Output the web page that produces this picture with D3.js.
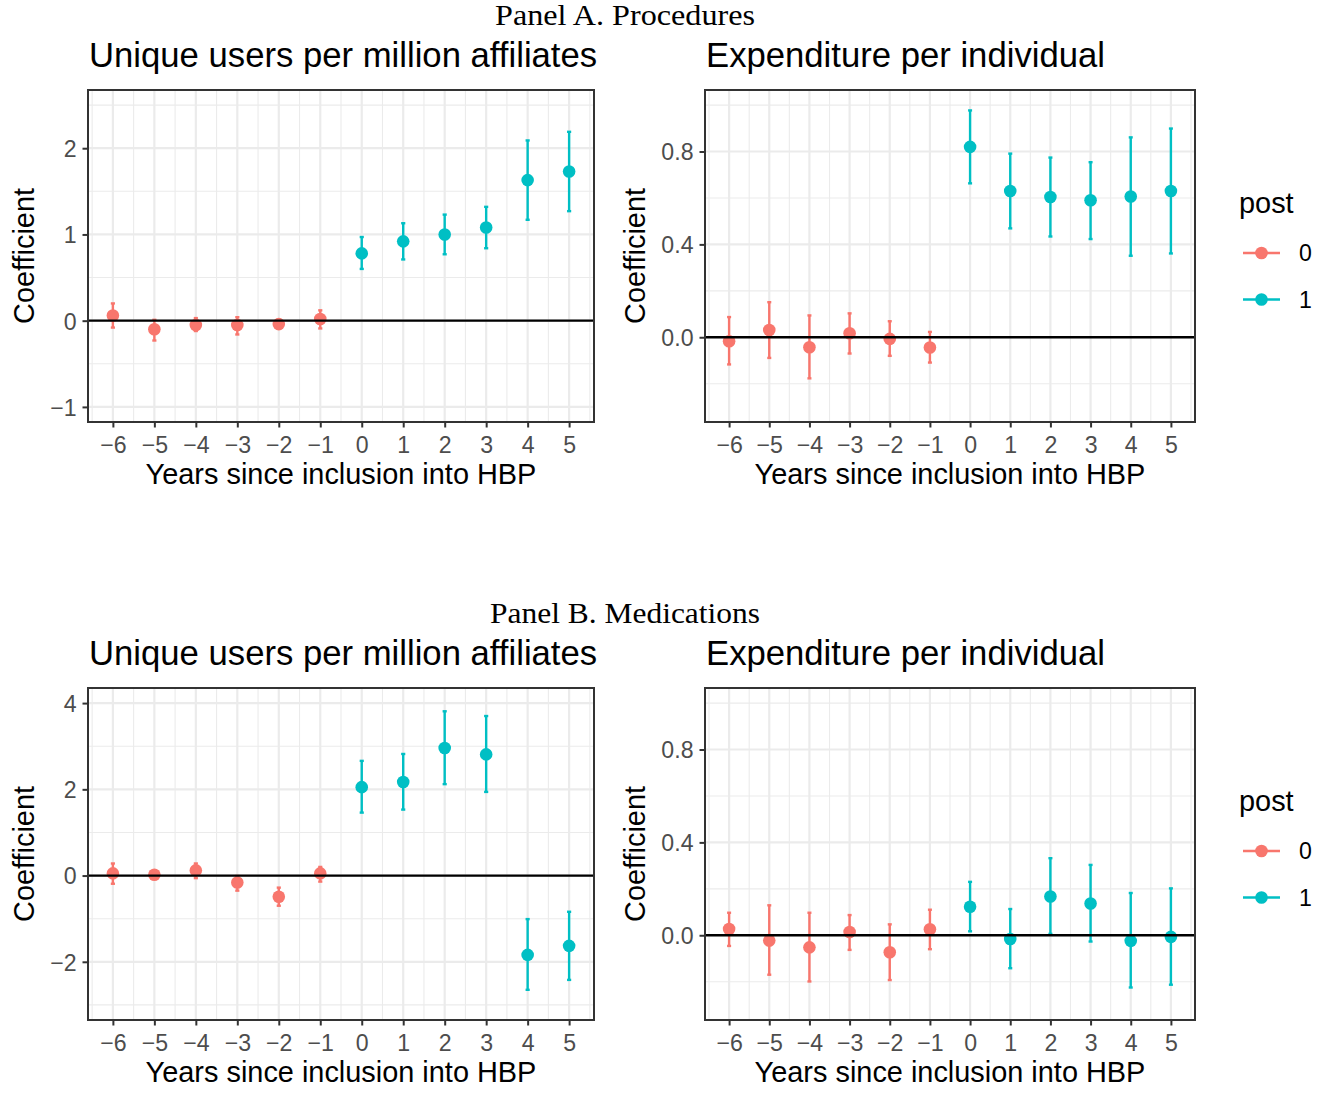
<!DOCTYPE html>
<html>
<head>
<meta charset="utf-8">
<script src="https://cdn.jsdelivr.net/npm/d3@7"></script>
<style>
  html, body { margin: 0; padding: 0; background: #ffffff; }
  svg { display: block; }
</style>
</head>
<body>
<svg id="chart" width="1332" height="1093"></svg>
<script>
// Event-study coefficients with 95% confidence intervals, by year relative to HBP inclusion
const years = [-6, -5, -4, -3, -2, -1, 0, 1, 2, 3, 4, 5];
const post  = [0, 0, 0, 0, 0, 0, 1, 1, 1, 1, 1, 1];

// Panel A. Procedures — unique users per million affiliates
const procUsersEst = [0.06, -0.10, -0.05, -0.05, -0.04, 0.02, 0.78, 0.92, 1.00, 1.08, 1.63, 1.73];
const procUsersLo  = [-0.08, -0.23, -0.12, -0.16, -0.09, -0.09, 0.60, 0.71, 0.77, 0.84, 1.17, 1.27];
const procUsersHi  = [0.20, 0.01, 0.03, 0.04, 0.01, 0.12, 0.97, 1.13, 1.23, 1.32, 2.09, 2.19];

// Panel A. Procedures — expenditure per individual
const procExpEst = [-0.017, 0.031, -0.043, 0.017, -0.007, -0.044, 0.820, 0.630, 0.604, 0.590, 0.606, 0.630];
const procExpLo  = [-0.117, -0.089, -0.177, -0.070, -0.080, -0.109, 0.663, 0.469, 0.434, 0.423, 0.351, 0.361];
const procExpHi  = [0.087, 0.151, 0.094, 0.103, 0.069, 0.023, 0.977, 0.791, 0.774, 0.754, 0.861, 0.899];

// Panel B. Medications — unique users per million affiliates
const medUsersEst = [0.05, 0.02, 0.12, -0.16, -0.49, 0.05, 2.05, 2.17, 2.96, 2.81, -1.84, -1.63];
const medUsersLo  = [-0.19, -0.04, -0.06, -0.35, -0.70, -0.14, 1.46, 1.53, 2.12, 1.94, -2.65, -2.42];
const medUsersHi  = [0.28, 0.08, 0.28, -0.01, -0.28, 0.20, 2.66, 2.82, 3.81, 3.70, -1.01, -0.84];

// Panel B. Medications — expenditure per individual
const medExpEst = [0.027, -0.023, -0.052, 0.014, -0.073, 0.026, 0.123, -0.016, 0.167, 0.137, -0.024, -0.007];
const medExpLo  = [-0.046, -0.170, -0.199, -0.063, -0.193, -0.060, 0.017, -0.142, 0.006, -0.027, -0.225, -0.213];
const medExpHi  = [0.097, 0.129, 0.097, 0.087, 0.047, 0.110, 0.230, 0.113, 0.332, 0.303, 0.182, 0.202];

// Axis limits and breaks
const usersProcLimits = [-1, 2.5];
const usersMedLimits  = [-3, 4];
const expLimits       = [-0.3, 1.0];
const usersProcBreaks = [-1, 0, 1, 2];
const usersMedBreaks  = [-2, 0, 2, 4];
const expBreaks       = [0, 0.4, 0.8];

// Text
const panelLabels = ["Panel A. Procedures", "Panel B. Medications"];
const usersTitle = "Unique users per million affiliates";
const expTitle = "Expenditure per individual";
const xTitle = "Years since inclusion into HBP";
const yTitle = "Coefficient";
const legendTitle = "post";
const legendLevels = [0, 1];
const postColors = ["#F8766D", "#00BFC4"];

const SANS = "'Liberation Sans', Arial, Helvetica, sans-serif";
const SERIF = "'Liberation Serif', 'Times New Roman', serif";
const BASE = 28.9;
const TICK = BASE * 0.8;
const TITLE = BASE * 1.2;

const svg = d3.select("#chart");
const color = d3.scaleOrdinal().domain(legendLevels).range(postColors);
const fmtTick = v => d3.format(".1f")(v).replace("-", "\u2212");
const fmtInt = v => d3.format("d")(v).replace("-", "\u2212");

function rows(est, lo, hi) {
  return years.map((y, i) => ({ year: y, post: post[i], est: est[i], lo: lo[i], hi: hi[i] }));
}

const rowOffset = 598;
const panels = [
  { row: 0, x0: 88,  x1: 594,  title: usersTitle, data: rows(procUsersEst, procUsersLo, procUsersHi), limits: usersProcLimits, breaks: usersProcBreaks, fmt: fmtInt },
  { row: 0, x0: 705, x1: 1195, title: expTitle,   data: rows(procExpEst, procExpLo, procExpHi),       limits: expLimits,       breaks: expBreaks,       fmt: fmtTick },
  { row: 1, x0: 88,  x1: 594,  title: usersTitle, data: rows(medUsersEst, medUsersLo, medUsersHi),    limits: usersMedLimits,  breaks: usersMedBreaks,  fmt: fmtInt },
  { row: 1, x0: 705, x1: 1195, title: expTitle,   data: rows(medExpEst, medExpLo, medExpHi),          limits: expLimits,       breaks: expBreaks,       fmt: fmtTick }
];

// Panel headings
panelLabels.forEach((label, r) => {
  svg.append("text")
    .attr("x", 625).attr("y", 25 + r * rowOffset)
    .attr("text-anchor", "middle")
    .attr("font-family", SERIF).attr("font-size", BASE)
    .attr("textLength", r === 0 ? 260 : 270).attr("lengthAdjust", "spacingAndGlyphs")
    .attr("fill", "#000")
    .text(label);
});

panels.forEach(p => {
  const y0 = 90 + p.row * rowOffset, y1 = 422 + p.row * rowOffset;
  const g = svg.append("g");

  const xs = d3.scaleLinear().domain([-6.6, 5.6]).range([p.x0, p.x1]);
  const span = p.limits[1] - p.limits[0];
  const ys = d3.scaleLinear()
    .domain([p.limits[0] - 0.05 * span, p.limits[1] + 0.05 * span])
    .range([y1, y0]);

  // minor grid
  const bStep = p.breaks[1] - p.breaks[0];
  const yMinor = d3.range(p.breaks[0] - bStep / 2, p.breaks[p.breaks.length - 1] + bStep, bStep)
    .filter(v => v >= ys.domain()[0] && v <= ys.domain()[1]);
  const xMinor = d3.range(-6.5, 6, 1).filter(v => v >= -6.6 && v <= 5.6);
  g.selectAll(".ymin").data(yMinor).join("line")
    .attr("x1", p.x0).attr("x2", p.x1)
    .attr("y1", d => ys(d)).attr("y2", d => ys(d))
    .attr("stroke", "#EBEBEB").attr("stroke-width", 1.1);
  g.selectAll(".xmin").data(xMinor).join("line")
    .attr("y1", y0).attr("y2", y1)
    .attr("x1", d => xs(d)).attr("x2", d => xs(d))
    .attr("stroke", "#EBEBEB").attr("stroke-width", 1.1);
  // major grid
  g.selectAll(".ymaj").data(p.breaks).join("line")
    .attr("x1", p.x0).attr("x2", p.x1)
    .attr("y1", d => ys(d)).attr("y2", d => ys(d))
    .attr("stroke", "#EBEBEB").attr("stroke-width", 2.2);
  g.selectAll(".xmaj").data(years).join("line")
    .attr("y1", y0).attr("y2", y1)
    .attr("x1", d => xs(d)).attr("x2", d => xs(d))
    .attr("stroke", "#EBEBEB").attr("stroke-width", 2.2);

  // error bars
  const capHalf = (xs(0.05) - xs(0));
  const bars = g.selectAll(".bar").data(p.data).join("g")
    .attr("stroke", d => color(d.post)).attr("stroke-width", 2.4);
  bars.append("line")
    .attr("x1", d => xs(d.year)).attr("x2", d => xs(d.year))
    .attr("y1", d => ys(d.lo)).attr("y2", d => ys(d.hi));
  bars.append("line")
    .attr("x1", d => xs(d.year) - capHalf).attr("x2", d => xs(d.year) + capHalf)
    .attr("y1", d => ys(d.lo)).attr("y2", d => ys(d.lo));
  bars.append("line")
    .attr("x1", d => xs(d.year) - capHalf).attr("x2", d => xs(d.year) + capHalf)
    .attr("y1", d => ys(d.hi)).attr("y2", d => ys(d.hi));

  // point estimates
  g.selectAll(".pt").data(p.data).join("circle")
    .attr("cx", d => xs(d.year)).attr("cy", d => ys(d.est))
    .attr("r", 6.3).attr("fill", d => color(d.post));

  // zero reference line
  g.append("line")
    .attr("x1", p.x0).attr("x2", p.x1)
    .attr("y1", ys(0)).attr("y2", ys(0))
    .attr("stroke", "#000").attr("stroke-width", 2.3);

  // panel border
  g.append("rect")
    .attr("x", p.x0).attr("y", y0)
    .attr("width", p.x1 - p.x0).attr("height", y1 - y0)
    .attr("fill", "none").attr("stroke", "#333333").attr("stroke-width", 2);

  // axes
  const xAxis = d3.axisBottom(xs).tickValues(years).tickFormat(fmtInt).tickSize(5.5).tickPadding(5);
  const gx = g.append("g").attr("transform", `translate(0,${y1})`).call(xAxis);
  const yAxis = d3.axisLeft(ys).tickValues(p.breaks).tickFormat(p.fmt).tickSize(5.5).tickPadding(6);
  const gy = g.append("g").attr("transform", `translate(${p.x0},0)`).call(yAxis);
  [gx, gy].forEach(ax => {
    ax.select(".domain").remove();
    ax.selectAll(".tick line").attr("stroke", "#333333").attr("stroke-width", 2);
    ax.selectAll(".tick text")
      .attr("font-family", SANS).attr("font-size", TICK).attr("fill", "#4D4D4D");
  });
  gx.selectAll(".tick text").attr("dy", null).attr("y", 31).attr("dominant-baseline", "auto");
  gy.selectAll(".tick text").attr("dy", "0.36em");

  let maxW = 0;
  gy.selectAll(".tick text").each(function () { maxW = Math.max(maxW, this.getComputedTextLength()); });

  // titles
  g.append("text")
    .attr("x", p.x0 + 1).attr("y", 66.5 + p.row * rowOffset)
    .attr("font-family", SANS).attr("font-size", TITLE).attr("fill", "#000")
    .text(p.title);
  g.append("text")
    .attr("x", (p.x0 + p.x1) / 2).attr("y", y1 + 62)
    .attr("text-anchor", "middle")
    .attr("font-family", SANS).attr("font-size", BASE).attr("fill", "#000")
    .text(xTitle);
  const ytx = p.x0 - 13 - maxW - 15;
  g.append("text")
    .attr("transform", `translate(${ytx},${(y0 + y1) / 2}) rotate(-90)`)
    .attr("text-anchor", "middle")
    .attr("font-family", SANS).attr("font-size", BASE).attr("fill", "#000")
    .text(yTitle);
});

// legends
[0, 1].forEach(r => {
  const lg = svg.append("g").attr("transform", `translate(0,${r * rowOffset})`);
  lg.append("text")
    .attr("x", 1239).attr("y", 213)
    .attr("font-family", SANS).attr("font-size", BASE).attr("fill", "#000")
    .text(legendTitle);
  const items = lg.selectAll(".item").data(legendLevels).join("g")
    .attr("transform", (d, i) => `translate(0,${253 + i * 46.5})`);
  items.append("line")
    .attr("x1", 1243).attr("x2", 1280).attr("y1", 0).attr("y2", 0)
    .attr("stroke", d => color(d)).attr("stroke-width", 2.4);
  items.append("circle")
    .attr("cx", 1261.5).attr("cy", 0).attr("r", 6.3)
    .attr("fill", d => color(d));
  items.append("text")
    .attr("x", 1299).attr("y", 8.3)
    .attr("font-family", SANS).attr("font-size", TICK).attr("fill", "#000")
    .text(d => d);
});
</script>
</body>
</html>
